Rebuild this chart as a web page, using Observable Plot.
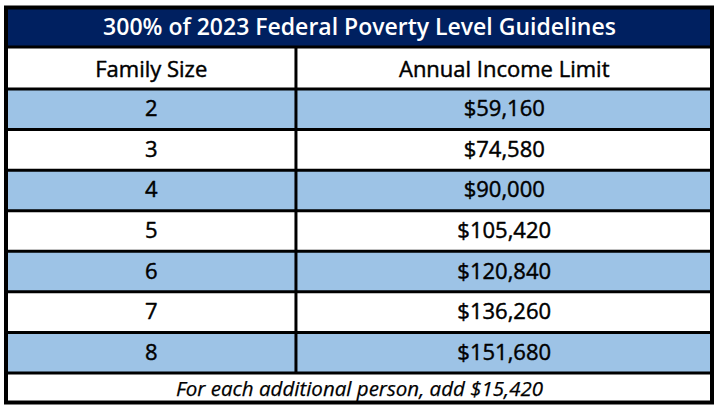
<!DOCTYPE html>
<html>
<head>
<meta charset="utf-8">
<script src="https://cdn.jsdelivr.net/npm/d3@7"></script>
<script src="https://cdn.jsdelivr.net/npm/@observablehq/plot@0.6"></script>
<style>
  html, body { margin: 0; padding: 0; background: #ffffff; }
  #chart svg { display: block; }
</style>
</head>
<body>
<div id="chart"></div>
<script>
// ---- data ----
const tableTitle = "300% of 2023 Federal Poverty Level Guidelines";
const columnHeaders = ["Family Size", "Annual Income Limit"];
const familySizes = [2, 3, 4, 5, 6, 7, 8];
const incomeLimits = [59160, 74580, 90000, 105420, 120840, 136260, 151680];
const additionalPerPerson = 15420;

// ---- layout (not data) ----
const W = 719, H = 411;
const split = 0.41;          // column divider as fraction of table width
const hTitle = 39, hHeader = 42, hRow = 40.57, hFooter = 30;
const navy = "#002060", blue = "#9dc3e6";
const font = "'Open Sans', sans-serif";
const fmt = d3.format("$,");

// build row table
const rows = [];
let acc = 0;
rows.push({kind: "title", y1: acc, y2: acc += hTitle, fill: navy});
rows.push({kind: "header", y1: acc, y2: acc += hHeader, fill: "#ffffff"});
familySizes.forEach((s, i) => {
  rows.push({kind: "data", size: s, limit: incomeLimits[i], y1: acc, y2: acc += hRow,
             fill: i % 2 === 0 ? blue : "#ffffff"});
});
rows.push({kind: "footer", y1: acc, y2: acc += hFooter, fill: "#ffffff"});
const total = acc;
rows.forEach(r => r.ym = (r.y1 + r.y2) / 2);

const dataRows = rows.filter(r => r.kind === "data");
const headerRow = rows.find(r => r.kind === "header");
const titleRow = rows.find(r => r.kind === "title");
const footerRow = rows.find(r => r.kind === "footer");
const innerLines = rows.slice(1).map(r => r.y1);

const bodyText = {fill: "#000", stroke: "#000", strokeWidth: 0.45, fontSize: 22, fontFamily: font};

const chart = Plot.plot({
  width: W,
  height: H,
  marginLeft: 6,
  marginRight: 7,
  marginTop: 7.5,
  marginBottom: 8.5,
  x: {domain: [0, 1], axis: null},
  y: {domain: [0, total], reverse: true, axis: null},
  style: {background: "#ffffff"},
  marks: [
    Plot.rect(rows, {x1: 0, x2: 1, y1: "y1", y2: "y2", fill: "fill"}),
    Plot.ruleY(innerLines, {x1: 0, x2: 1, stroke: "#000", strokeWidth: 3}),
    Plot.ruleX([split], {y1: headerRow.y1, y2: dataRows[dataRows.length - 1].y2, stroke: "#000", strokeWidth: 3}),
    Plot.rect([0], {x1: 0, x2: 1, y1: 0, y2: total, fill: "none", stroke: "#000", strokeWidth: 4}),
    Plot.text([titleRow], {x: 0.5, y: "ym", text: () => tableTitle, fill: "#ffffff",
      fontSize: 23, fontWeight: 600, fontFamily: font}),
    Plot.text([headerRow, headerRow], {...bodyText, x: (d, i) => i === 0 ? split / 2 : (split + 1) / 2, y: "ym",
      text: (d, i) => columnHeaders[i], letterSpacing: 0.6, dy: 1.5}),
    Plot.text(dataRows, {...bodyText, x: split / 2, y: "ym", text: d => String(d.size)}),
    Plot.text(dataRows, {...bodyText, x: (split + 1) / 2, y: "ym", text: d => fmt(d.limit), letterSpacing: 0.6}),
    Plot.text([footerRow], {x: 0.5, y: "ym", text: () => `For each additional person, add ${fmt(additionalPerPerson)}`,
      fill: "#000", stroke: "#000", strokeWidth: 0.25, fontSize: 20.5, fontStyle: "italic", fontFamily: font,
      letterSpacing: 2.5, dy: 1})
  ]
});
document.getElementById("chart").appendChild(chart);
</script>
</body>
</html>
